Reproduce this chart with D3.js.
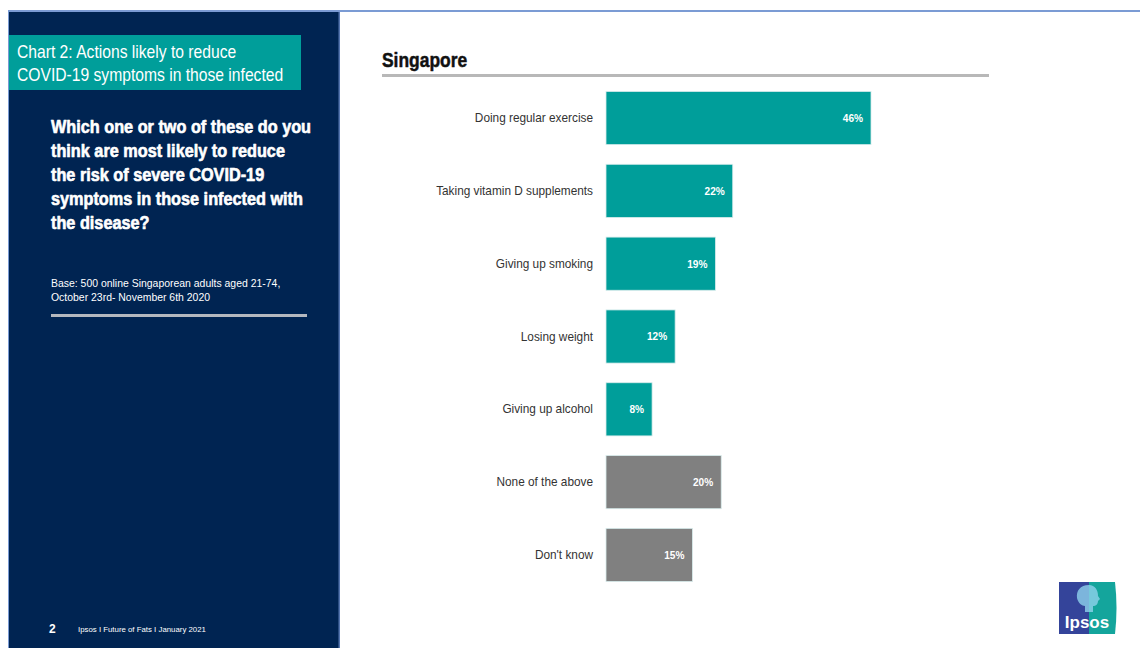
<!DOCTYPE html>
<html>
<head>
<meta charset="utf-8">
<script src="https://cdn.jsdelivr.net/npm/d3@7"></script>
<style>
  html, body { margin: 0; padding: 0; background: #ffffff; }
  svg { display: block; }
  text { font-family: "Liberation Sans", Arial, sans-serif; }
</style>
</head>
<body>
<svg id="chart" width="1140" height="648"></svg>
<script>
// Survey results: actions thought most likely to reduce severe COVID-19 symptoms (Singapore)
const categories = [
  "Doing regular exercise",
  "Taking vitamin D supplements",
  "Giving up smoking",
  "Losing weight",
  "Giving up alcohol",
  "None of the above",
  "Don't know"
];
const values = [46, 22, 19, 12, 8, 20, 15];
const groups = ["action", "action", "action", "action", "action", "other", "other"];

const titleLines = ["Chart 2: Actions likely to reduce", "COVID-19 symptoms in those infected"];
const questionLines = [
  "Which one or two of these do you",
  "think are most likely to reduce",
  "the risk of severe COVID-19",
  "symptoms in those infected with",
  "the disease?"
];
const baseLines = [
  "Base: 500 online Singaporean adults aged 21-74,",
  "October 23rd- November 6th 2020"
];

const colors = { action: "#009e9a", other: "#808080" };
const navy = "#002452";
const teal = "#009e9a";

const svg = d3.select("#chart");

// Condensed text: horizontally squeezed around its anchor point
function narrowText(parent, x, y, str, size, squeeze, opts = {}) {
  const t = parent.append("text")
    .attr("transform", `translate(${x},${y}) scale(${squeeze},1)`)
    .attr("font-size", size)
    .attr("font-weight", opts.weight || "normal")
    .attr("fill", opts.fill || "#ffffff")
    .attr("text-anchor", opts.anchor || "start")
    .text(str);
  if (opts.heavy) {
    t.attr("stroke", opts.fill || "#ffffff").attr("stroke-width", opts.heavy).attr("stroke-linejoin", "round");
  }
  return t;
}

// Page frame
svg.append("rect").attr("x", 8).attr("y", 10).attr("width", 1132).attr("height", 2).attr("fill", "#7b9bd4");
svg.append("rect").attr("x", 8).attr("y", 10).attr("width", 1.5).attr("height", 638).attr("fill", "#7b9bd4");

// Left navy panel
svg.append("rect").attr("x", 9).attr("y", 12).attr("width", 330).attr("height", 636).attr("fill", navy);
svg.append("rect").attr("x", 338.5).attr("y", 12).attr("width", 1.5).attr("height", 636).attr("fill", "#5676b0");

// Chart title box
svg.append("rect").attr("x", 9).attr("y", 35).attr("width", 292).attr("height", 55).attr("fill", teal);
titleLines.forEach((t, i) => narrowText(svg, 17, 58 + i * 23, t, 17.5, 0.895));

// Survey question
questionLines.forEach((t, i) => narrowText(svg, 51, 133 + i * 24, t, 17.5, 0.93, { weight: "bold", heavy: 0.6 }));

// Base note
baseLines.forEach((t, i) => narrowText(svg, 51, 287 + i * 14, t, 11, 0.95));
svg.append("rect").attr("x", 51).attr("y", 314).attr("width", 256).attr("height", 3).attr("fill", "#b4b8bf");

// Footer
narrowText(svg, 49, 633, "2", 12, 1, { weight: "bold" });
narrowText(svg, 78, 632, "Ipsos I Future of Fats I January 2021", 8, 0.98);

// Right heading
narrowText(svg, 382, 67, "Singapore", 21, 0.83, { weight: "bold", fill: "#111111", heavy: 0.5 });
svg.append("rect").attr("x", 382).attr("y", 74).attr("width", 607).attr("height", 3).attr("fill", "#b8b8b8");

// Scales
const x = d3.scaleLinear().domain([0, 46]).range([606, 871]);
const y = d3.scaleBand().domain(categories).range([82, 591]).paddingInner(0.27).paddingOuter(0.13);

const rows = categories.map((c, i) => ({ category: c, value: values[i], group: groups[i] }));

// Bars
svg.append("g").selectAll("rect").data(rows).join("rect")
  .attr("x", x(0))
  .attr("y", d => y(d.category))
  .attr("width", d => x(d.value) - x(0))
  .attr("height", y.bandwidth())
  .attr("fill", d => colors[d.group])
  .attr("stroke", "#d8ecec")
  .attr("stroke-width", 0.8);

// Value labels inside bars
svg.append("g").selectAll("text").data(rows).join("text")
  .attr("transform", d => `translate(${x(d.value) - 8},${y(d.category) + y.bandwidth() / 2}) scale(0.92,1)`)
  .attr("dy", "0.35em")
  .attr("text-anchor", "end")
  .attr("fill", "#ffffff")
  .attr("font-size", 11)
  .attr("font-weight", "bold")
  .text(d => d.value + "%");

// Category axis (labels only)
const yAxis = svg.append("g")
  .attr("transform", `translate(${x(0) - 13},0)`)
  .call(d3.axisLeft(y).tickSize(0).tickPadding(0));
yAxis.select(".domain").remove();
yAxis.selectAll("text")
  .attr("font-family", null)
  .attr("font-size", 13)
  .attr("fill", "#333333")
  .attr("transform", "scale(0.91,1)");

// Ipsos logo
const logo = svg.append("g").attr("transform", "translate(1059,582)");
logo.append("path")
  .attr("d", "M30,0 L56,0 Q59,26 56,52 L30,52 Z")
  .attr("fill", "#14a59c");
logo.append("rect").attr("x", 0).attr("y", 0).attr("width", 30).attr("height", 52).attr("fill", "#34449a");
// head silhouette
logo.append("path")
  .attr("d", "M30,3 C21,3 17,9 18,16 C19,21 23,24 26,24 L26,30 L34,30 L34,24 C37,24 39,22 39,19 L41,17 L39,14 C39,8 36,3 30,3 Z")
  .attr("fill", "#8fd2ec").attr("opacity", 0.8);
logo.append("text")
  .attr("x", 28).attr("y", 46)
  .attr("text-anchor", "middle")
  .attr("fill", "#ffffff")
  .attr("font-size", 17)
  .attr("font-weight", "bold")
  .text("Ipsos");
</script>
</body>
</html>
